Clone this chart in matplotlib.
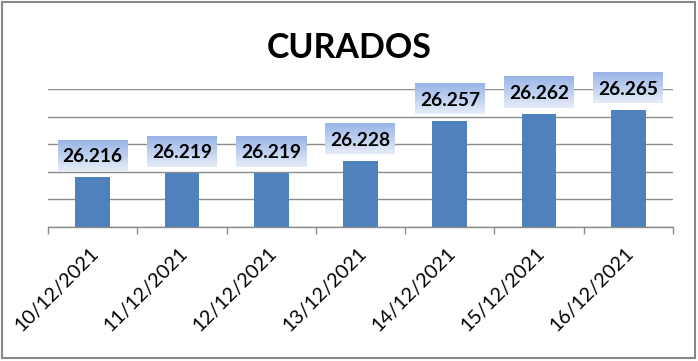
import numpy as np
import matplotlib
matplotlib.use("Agg")
import matplotlib.pyplot as plt
from matplotlib.patches import Rectangle
from matplotlib.colors import LinearSegmentedColormap
from matplotlib.transforms import ScaledTranslation

# ---- data ----
dates = ["10/12/2021", "11/12/2021", "12/12/2021", "13/12/2021",
         "14/12/2021", "15/12/2021", "16/12/2021"]
values = [26.216, 26.219, 26.219, 26.228, 26.257, 26.262, 26.265]
value_labels = ["26.216", "26.219", "26.219", "26.228", "26.257", "26.262", "26.265"]
title = "CURADOS"
y_min, y_max, y_step = 26.18, 26.28, 0.02

W, H, DPI = 698, 361, 100
fig = plt.figure(figsize=(W / DPI, H / DPI), dpi=DPI)
fig.patch.set_facecolor("white")

# axes placement (pixels -> fractions)
left_px, right_px, bottom_px, top_px = 48, 673, 227, 89.3
ax = fig.add_axes([left_px / W, 1 - bottom_px / H,
                   (right_px - left_px) / W, (bottom_px - top_px) / H])

x = np.arange(len(values))
ax.bar(x, values, width=0.39, color="#4f81bd", zorder=2)
ax.set_xlim(-0.5, len(values) - 0.5)
ax.set_ylim(y_min, y_max)

grid_col = "#8c8c8c"
ax.set_yticks(np.arange(y_min, y_max + y_step / 2, y_step))
ax.yaxis.grid(True, color=grid_col, linewidth=1.0, zorder=0)
ax.set_axisbelow(True)
ax.tick_params(axis="y", left=False, labelleft=False)
for s in ["left", "right", "top"]:
    ax.spines[s].set_visible(False)
ax.spines["bottom"].set_color(grid_col)
ax.spines["bottom"].set_linewidth(1.0)

# ticks at category boundaries, labels at centres
ax.set_xticks(x)
ax.set_xticks(np.arange(-0.5, len(values), 1.0), minor=True)
ax.tick_params(axis="x", which="major", length=0, pad=12.5)
ax.tick_params(axis="x", which="minor", length=5, width=1.0, color=grid_col)
ax.set_xticklabels(dates, rotation=45, ha="right", va="top",
                   rotation_mode="anchor", fontfamily="Lato", fontsize=14.3,
                   color="black")
for lab in ax.get_xticklabels():
    lab.set_transform(lab.get_transform() + ScaledTranslation(-3 / DPI, 0, fig.dpi_scale_trans))

# title
fig.text(0.5, 1 - 58.3 / H, title, ha="center", va="baseline",
         fontfamily="Lato", fontweight="bold", fontsize=24.5, color="black")

# value label boxes with vertical gradient
fig.canvas.draw()
cmap = LinearSegmentedColormap.from_list("lab", ["#e6edf9", "#98b4e6"])
grad = np.linspace(0, 1, 64).reshape(-1, 1)
inv = ax.transData.inverted()
box_w, box_h, gap = 70, 31, 6.5
for i, v in enumerate(values):
    xd, yd = ax.transData.transform((i, v))
    (x0, y0) = inv.transform((xd - box_w / 2, yd + gap))
    (x1, y1) = inv.transform((xd + box_w / 2, yd + gap + box_h))
    ax.imshow(grad, cmap=cmap, origin="lower", aspect="auto",
              extent=[x0, x1, y0, y1], zorder=3, clip_on=False,
              interpolation="bilinear")
    ax.text(i, (y0 + y1) / 2, value_labels[i], ha="center", va="center_baseline",
            fontfamily="Lato", fontweight="bold", fontsize=13.8, color="black",
            zorder=4, clip_on=False)
ax.set_xlim(-0.5, len(values) - 0.5)
ax.set_ylim(y_min, y_max)

# outer border
fig.patches.append(Rectangle((1.5 / W, 1 - 357.5 / H), 693 / W, 356 / H,
                             transform=fig.transFigure, fill=False,
                             edgecolor="#878787", linewidth=1.5))

fig.savefig("out.png", dpi=DPI, facecolor="white")
